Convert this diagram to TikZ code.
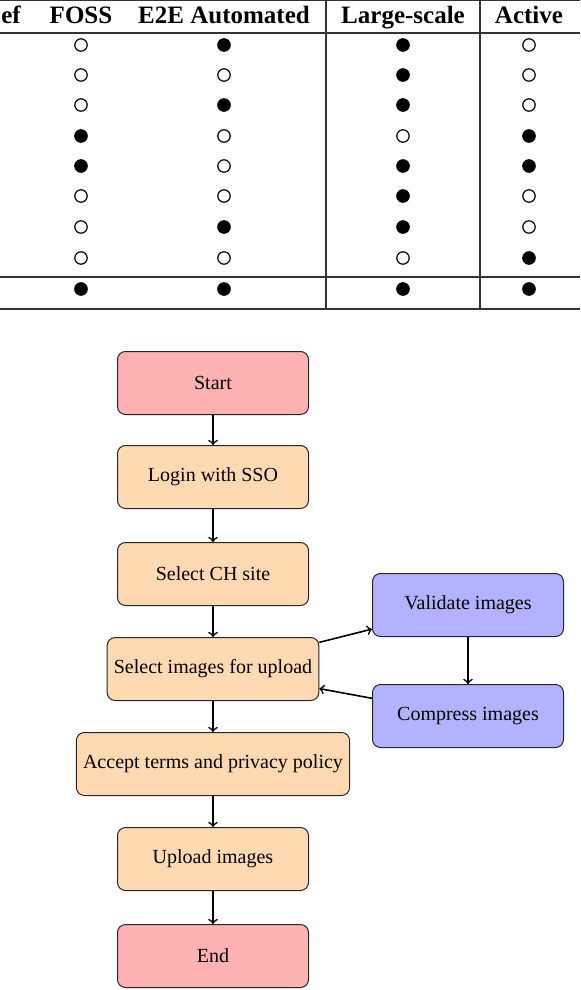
\documentclass[tikz,border=0pt]{standalone}
\usepackage{fontspec}
\setmainfont{Liberation Serif}

\begin{document}
\begin{tikzpicture}[x=0.5pt,y=-0.5pt,
		stepbox/.style={draw=black!85,line width=0.5pt,rounded corners,minimum width=95.5pt,minimum height=31.5pt,font=\fontsize{10}{12}\selectfont},
		endbox/.style={stepbox,fill=red!30},
		taskbox/.style={stepbox,fill=orange!30},
		checkbox/.style={stepbox,fill=blue!30},
		flow/.style={->,thick},
		head/.style={anchor=base,font=\bfseries\fontsize{12.5}{15}\selectfont},
		dot/.style={circle,draw=black,line width=0.6pt,inner sep=0pt,minimum size=6.2pt},
		rule/.style={line width=0.6pt,black!80}]
				\useasboundingbox (0,0) rectangle (580,990);
				\node[head] (h-ref) at (11,24) {ef};
				\node[head] (h-foss) at (81,24) {FOSS};
				\node[head] (h-e2e) at (224,24) {E2E Automated};
				\node[head] (h-large) at (403,24) {Large-scale};
				\node[head] (h-active) at (529,24) {Active};
				\draw[rule] (0,0.5) -- (580,0.5);
				\draw[rule] (0,33) -- (580,33);
				\draw[rule] (0,277) -- (580,277);
				\draw[rule] (0,309) -- (580,309);
				\draw[rule] (326,0) -- (326,309);
				\draw[rule] (480,0) -- (480,309);
				\foreach \y/\a/\b/\c/\d [count=\i] in {45/0/1/1/0,75/0/0/1/0,105/0/1/1/0,136/1/0/0/1,166/1/0/1/1,196/0/0/1/0,227/0/1/1/0,258/0/0/0/1,289/1/1/1/1}{
					\node[dot,fill=black!\a00] (foss-\i) at (81,\y) {};
					\node[dot,fill=black!\b00] (e2e-\i) at (224,\y) {};
					\node[dot,fill=black!\c00] (large-\i) at (403,\y) {};
					\node[dot,fill=black!\d00] (active-\i) at (529,\y) {};
				}
				\node[endbox] (start) at (213,383) {Start};
				\node[taskbox] (login) at (213,477) {Login with SSO};
				\node[taskbox] (site) at (213,574) {Select CH site};
				\node[taskbox] (select) at (213,669) {Select images for upload};
				\node[taskbox] (terms) at (213,764) {Accept terms and privacy policy};
				\node[taskbox] (upload) at (213,859) {Upload images};
				\node[endbox] (stop) at (213,956) {End};
				\node[checkbox] (validate) at (468,605) {Validate images};
				\node[checkbox] (compress) at (468,716) {Compress images};
				\draw[flow] (start) -- (login);
				\draw[flow] (login) -- (site);
				\draw[flow] (site) -- (select);
				\draw[flow] (select) -- (terms);
				\draw[flow] (terms) -- (upload);
				\draw[flow] (upload) -- (stop);
				\draw[flow] (select) -- (validate);
				\draw[flow] (validate) -- (compress);
				\draw[flow] (compress) -- (select);
			\end{tikzpicture}
\end{document}
